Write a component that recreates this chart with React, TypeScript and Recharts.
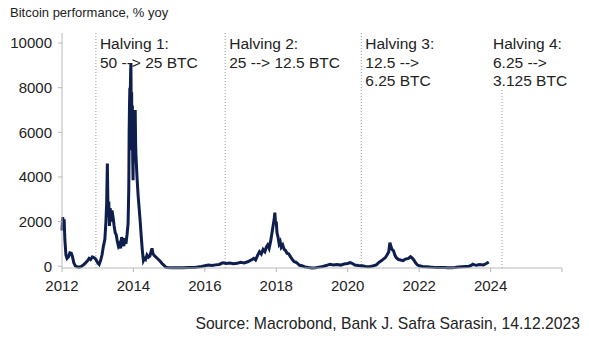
import React from "react";
import { LineChart, Line, XAxis, YAxis, ReferenceLine } from "recharts";

// decimal year of each observation
const dates = [
  2012.0, 2012.02, 2012.04, 2012.06, 2012.08, 2012.11, 2012.14, 2012.18, 2012.22, 2012.26,
  2012.29, 2012.33, 2012.37, 2012.42, 2012.48, 2012.54, 2012.6, 2012.66, 2012.72, 2012.76,
  2012.8, 2012.85, 2012.9, 2012.95, 2013.0, 2013.04, 2013.08, 2013.12, 2013.16, 2013.2,
  2013.23, 2013.25, 2013.27, 2013.29, 2013.31, 2013.33, 2013.35, 2013.37, 2013.4, 2013.43,
  2013.46, 2013.49, 2013.52, 2013.55, 2013.58, 2013.61, 2013.64, 2013.67, 2013.7, 2013.73,
  2013.76, 2013.79, 2013.82, 2013.85, 2013.87, 2013.88, 2013.89, 2013.9, 2013.91, 2013.92,
  2013.93, 2013.94, 2013.95, 2013.96, 2013.97, 2013.98, 2013.99, 2014.0, 2014.01, 2014.02,
  2014.03, 2014.04, 2014.05, 2014.06, 2014.07, 2014.1, 2014.13, 2014.16, 2014.19, 2014.22,
  2014.25, 2014.28, 2014.31, 2014.34, 2014.38, 2014.42, 2014.46, 2014.5, 2014.52, 2014.55,
  2014.6, 2014.65, 2014.7, 2014.75, 2014.8, 2014.85, 2014.9, 2014.95, 2015.05, 2015.2,
  2015.4, 2015.55, 2015.7, 2015.8, 2015.9, 2016.0, 2016.1, 2016.2, 2016.3, 2016.4,
  2016.5, 2016.6, 2016.7, 2016.8, 2016.9, 2017.0, 2017.1, 2017.2, 2017.3, 2017.37,
  2017.42, 2017.48, 2017.53, 2017.58, 2017.63, 2017.68, 2017.72, 2017.76, 2017.8, 2017.84,
  2017.88, 2017.91, 2017.94, 2017.96, 2017.98, 2018.0, 2018.02, 2018.05, 2018.08, 2018.11,
  2018.14, 2018.18, 2018.22, 2018.26, 2018.3, 2018.35, 2018.4, 2018.45, 2018.5, 2018.55,
  2018.6, 2018.65, 2018.72, 2018.8, 2018.9, 2019.0, 2019.1, 2019.2, 2019.3, 2019.4,
  2019.5, 2019.6, 2019.7, 2019.8, 2019.9, 2020.0, 2020.07, 2020.12, 2020.2, 2020.3,
  2020.4, 2020.5, 2020.6, 2020.7, 2020.8, 2020.88, 2020.95, 2021.0, 2021.05, 2021.1,
  2021.15, 2021.18, 2021.21, 2021.24, 2021.28, 2021.32, 2021.36, 2021.42, 2021.48, 2021.55,
  2021.62, 2021.7, 2021.76, 2021.8, 2021.85, 2021.9, 2021.95, 2022.0, 2022.1, 2022.2,
  2022.3, 2022.4, 2022.5, 2022.6, 2022.7, 2022.8, 2022.9, 2023.0, 2023.1, 2023.2,
  2023.3, 2023.4, 2023.47, 2023.5, 2023.55, 2023.6, 2023.7, 2023.8, 2023.87, 2023.95,
];

// Bitcoin performance, % yoy
const yoy = [
  1600, 2200, 1700, 2100, 1200, 500, 350, 420, 600, 580,
  450, 150, 20, -30, -40, -10, 60, 150, 250, 350,
  300, 420, 380, 300, 150, 80, 250, 500, 900, 1200,
  2000, 2800, 4600, 2200, 2900, 1800, 2600, 2000, 2500, 2200,
  1800, 1500, 1400, 1100, 900, 1000, 800, 1300, 1100, 900,
  1250, 1000, 1400, 1900, 3500, 6000, 7200, 8000, 7400, 8600,
  9100, 6500, 7800, 5200, 7200, 4800, 3850, 6200, 6900, 5000,
  6600, 5400, 7000, 5600, 5000, 4000, 3200, 2600, 2000, 1300,
  700, 250, 350, 300, 500, 400, 450, 700, 800, 550,
  450, 380, 300, 220, 120, 50, -40, -60, -70, -65,
  -70, -60, -55, -35, -10, 20, 50, 30, 60, 80,
  150, 120, 140, 110, 130, 180, 150, 200, 280, 350,
  280, 500, 650, 550, 750, 650, 850, 950, 800, 1100,
  1500, 1800, 2100, 2400, 1900, 2000, 1500, 1300, 1000, 1100,
  850, 950, 750, 700, 580, 550, 420, 300, 200, 180,
  120, 40, 20, -30, -60, -75, -70, -40, -10, 30,
  90, 60, 80, 50, 100, 120, 160, 130, 50, 30,
  20, -10, -20, 10, 60, 180, 250, 320, 380, 500,
  650, 1050, 900, 750, 700, 500, 380, 300, 280, 250,
  320, 350, 430, 380, 280, 150, 60, 20, -10, -20,
  -40, -50, -55, -60, -60, -65, -65, -60, -40, -20,
  -10, 0, 50, 90, 60, 40, 80, 60, 110, 190,
];

const halvingDates = [2012.95, 2016.57, 2020.38, 2024.32];
const halvingText = [
  ["Halving 1:", "50 --> 25 BTC"],
  ["Halving 2:", "25 --> 12.5 BTC"],
  ["Halving 3:", "12.5 -->", "6.25 BTC"],
  ["Halving 4:", "6.25 -->", "3.125 BTC"],
];

const yTicks = [0, 2000, 4000, 6000, 8000, 10000];
const xTicks = [2012, 2014, 2016, 2018, 2020, 2022, 2024, 2026];

const data = dates.map((d, i) => ({ date: d, value: yoy[i] }));

const FONT = "'Liberation Sans', Arial, sans-serif";

function HalvingLabel({ viewBox, lines, dx }: any) {
  const x = viewBox.x + dx;
  return (
    <text x={x} y={43} fontSize={15.5} fill="#222" fontFamily={FONT} dominantBaseline="central">
      {lines.map((l: string, i: number) => (
        <tspan key={i} x={x} y={43 + i * 18.5}>
          {l}
        </tspan>
      ))}
    </text>
  );
}

export default function App() {
  return (
    <div style={{ position: "absolute", left: 0, top: 0, width: 589, height: 343, background: "#fff", fontFamily: FONT }}>
      <div style={{ position: "absolute", left: 10, top: 5, fontSize: 13, color: "#222" }}>
        Bitcoin performance, % yoy
      </div>
      <LineChart width={589} height={343} data={data} margin={{ top: 33, right: 27, bottom: 45, left: 12 }}>
        <XAxis
          dataKey="date"
          type="number"
          domain={[2012, 2026]}
          ticks={xTicks}
          tickFormatter={(v) => (v === 2026 ? "" : String(v))}
          tick={{ fontSize: 15, fill: "#222", fontFamily: FONT }}
          stroke="#b8b8b8"
          tickSize={4}
          tickMargin={8}
          height={30}
        />
        <YAxis
          type="number"
          domain={[-80, 10450]}
          ticks={yTicks}
          tick={{ fontSize: 15, fill: "#222", fontFamily: FONT }}
          stroke="#b8b8b8"
          tickSize={4}
          tickMargin={6}
          width={50}
        />
        {halvingDates.map((d, i) =>
          i === 3 ? (
            <ReferenceLine
              key={i}
              segment={[
                { x: d, y: -80 },
                { x: d, y: 7900 },
              ]}
              stroke="#999"
              strokeDasharray="1 2"
              label={<HalvingLabel lines={halvingText[i]} dx={-9} />}
            />
          ) : (
            <ReferenceLine
              key={i}
              x={d}
              stroke="#999"
              strokeDasharray="1 2"
              label={<HalvingLabel lines={halvingText[i]} dx={4} />}
            />
          )
        )}
        <Line
          type="linear"
          dataKey="value"
          stroke="#0f1f4d"
          strokeWidth={3}
          dot={false}
          isAnimationActive={false}
        />
      </LineChart>
      <div style={{ position: "absolute", right: 9, top: 315, fontSize: 15.7, color: "#222", whiteSpace: "nowrap" }}>
        Source: Macrobond, Bank J. Safra Sarasin, 14.12.2023
      </div>
    </div>
  );
}
